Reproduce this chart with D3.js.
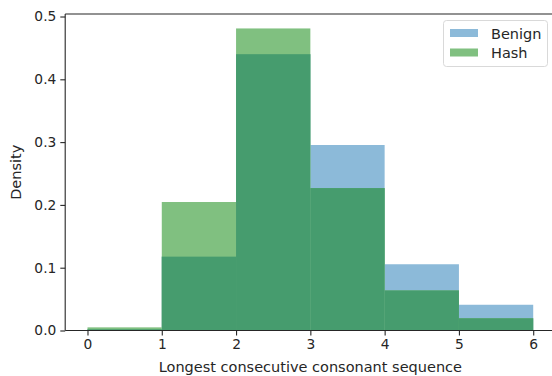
<!DOCTYPE html>
<html>
<head>
<meta charset="utf-8">
<script src="https://cdn.jsdelivr.net/npm/d3@7"></script>
<style>
  html, body { margin: 0; padding: 0; background: #fff; }
  svg { display: block; }
  text { font-family: "DejaVu Sans", sans-serif; fill: #262626; }
</style>
</head>
<body>
<svg id="chart" width="552" height="376"></svg>
<script>
// Histogram bins: [left edge, right edge]
const binEdges = [0, 1, 2, 3, 4, 5, 6];
// Density per bin for each series
const benignDensity = [0.002, 0.1176, 0.440, 0.2954, 0.1055, 0.041];
const hashDensity   = [0.005, 0.2046, 0.481, 0.2268, 0.0638, 0.0195];
const seriesNames = ["Benign", "Hash"];
const seriesColors = ["#8cbad9", "#80c080"];
const overlapColor = "#469c6e";
const xTicks = [0, 1, 2, 3, 4, 5, 6];
const yTicks = [0.0, 0.1, 0.2, 0.3, 0.4, 0.5];

const svg = d3.select("#chart");
const plot = { left: 65.2, right: 555.5, top: 14, bottom: 330.5 };

const x = d3.scaleLinear().domain([-0.3, 6.3]).range([plot.left, plot.right]);
const y = d3.scaleLinear().domain([0, 0.504]).range([plot.bottom, plot.top]);

// Each translucent series, then the region where both overlap
const overlap = benignDensity.map((d, i) => Math.min(d, hashDensity[i]));
const layers = [
  { vals: benignDensity, color: seriesColors[0] },
  { vals: hashDensity, color: seriesColors[1] },
  { vals: overlap, color: overlapColor }
];
layers.forEach(layer => {
  svg.append("g")
    .selectAll("rect")
    .data(layer.vals)
    .join("rect")
    .attr("x", (d, i) => x(binEdges[i]))
    .attr("width", (d, i) => x(binEdges[i + 1]) - x(binEdges[i]))
    .attr("y", d => y(d))
    .attr("height", d => y(0) - y(d))
    .attr("fill", layer.color);
});

// Axes
const xAxis = d3.axisBottom(x).tickValues(xTicks).tickSize(4.9).tickPadding(4).tickFormat(d3.format("d"));
const yAxis = d3.axisLeft(y).tickValues(yTicks).tickSize(4.9).tickPadding(4).tickFormat(d3.format(".1f"));

const gx = svg.append("g").attr("transform", `translate(0,${plot.bottom})`).call(xAxis);
const gy = svg.append("g").attr("transform", `translate(${plot.left},0)`).call(yAxis);
[gx, gy].forEach(g => {
  g.select(".domain").remove();
  g.selectAll(".tick line").attr("stroke", "#262626").attr("stroke-width", 1.1);
  g.selectAll(".tick text").attr("font-size", 13.8).style("font-family", "DejaVu Sans, sans-serif").attr("fill", "#262626");
});

// Spines: left, top, bottom
const spine = svg.append("g").attr("stroke", "#262626").attr("stroke-width", 1.1).attr("fill", "none");
spine.append("line").attr("x1", plot.left).attr("x2", plot.left).attr("y1", plot.top).attr("y2", plot.bottom);
spine.append("line").attr("x1", plot.left).attr("x2", plot.right).attr("y1", plot.top).attr("y2", plot.top);
spine.append("line").attr("x1", plot.left).attr("x2", plot.right).attr("y1", plot.bottom).attr("y2", plot.bottom);

// Axis labels
svg.append("text")
  .attr("x", (x(0) + x(6)) / 2).attr("y", 372)
  .attr("text-anchor", "middle").attr("font-size", 14.5)
  .text("Longest consecutive consonant sequence");
svg.append("text")
  .attr("transform", `translate(20.5,${(plot.top + plot.bottom) / 2}) rotate(-90)`)
  .attr("text-anchor", "middle").attr("font-size", 14.5)
  .text("Density");

// Legend
const legend = svg.append("g");
legend.append("rect")
  .attr("x", 443.5).attr("y", 20.5).attr("width", 104).attr("height", 46)
  .attr("rx", 3).attr("fill", "#fff").attr("fill-opacity", 0.8)
  .attr("stroke", "#d9d9d9").attr("stroke-width", 1);
seriesNames.forEach((name, i) => {
  const ly = 29 + i * 19.5;
  legend.append("rect")
    .attr("x", 450).attr("y", ly).attr("width", 28).attr("height", 8)
    .attr("fill", seriesColors[i]);
  legend.append("text")
    .attr("x", 491).attr("y", ly + 9.5)
    .attr("font-size", 14.5)
    .text(name);
});
</script>
</body>
</html>
